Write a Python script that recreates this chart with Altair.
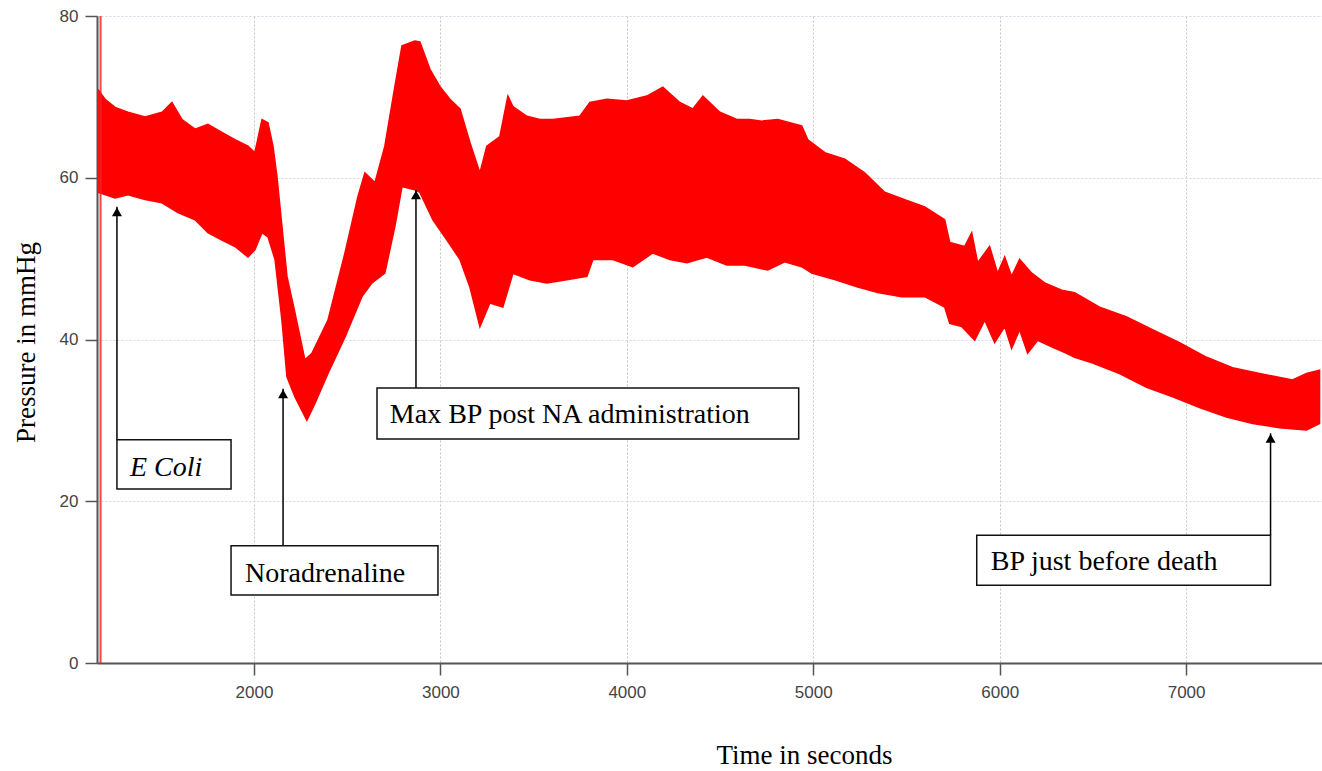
import altair as alt
import pandas as pd

# Upper envelope of the pressure trace (time s, mmHg)
upper_t = [1164, 1201, 1255, 1324, 1416, 1507, 1560, 1614, 1684, 1753, 1828, 1898, 1968, 2005,
           2043, 2075, 2102, 2123, 2150, 2177, 2220, 2273, 2311, 2397, 2488, 2558, 2595, 2649,
           2702, 2756, 2794, 2863, 2890, 2944, 2997, 3051, 3105, 3158, 3212, 3249, 3319, 3362,
           3389, 3464, 3534, 3603, 3748, 3802, 3893, 4000, 4107, 4193, 4284, 4354, 4408, 4499,
           4590, 4660, 4724, 4810, 4938, 4971, 5062, 5169, 5276, 5383, 5491, 5598, 5705, 5732,
           5812, 5850, 5882, 5946, 5989, 6027, 6064, 6107, 6172, 6241, 6333, 6402, 6536, 6681,
           6820, 6965, 7110, 7249, 7394, 7571, 7646, 7716]
upper_v = [70.9, 69.7, 68.7, 68.1, 67.5, 68.1, 69.3, 67.2, 66.0, 66.6, 65.6, 64.7, 63.9, 63.1,
           67.2, 66.8, 63.9, 60.2, 54.0, 47.8, 43.3, 37.5, 38.3, 42.4, 50.7, 57.7, 60.6, 59.4,
           63.9, 71.3, 76.3, 76.9, 76.8, 73.4, 71.3, 69.7, 68.5, 64.4, 60.6, 63.9, 65.1, 70.1,
           68.8, 67.6, 67.2, 67.2, 67.6, 69.3, 69.7, 69.5, 70.1, 71.2, 69.3, 68.5, 70.1, 68.1,
           67.2, 67.2, 67.0, 67.2, 66.4, 64.7, 63.1, 62.3, 60.6, 58.2, 57.3, 56.4, 54.8, 52.0,
           51.5, 53.2, 49.5, 51.5, 48.2, 50.2, 47.8, 49.9, 48.2, 47.0, 46.1, 45.8, 44.0, 42.8,
           41.2, 39.6, 37.8, 36.5, 35.8, 35.0, 35.8, 36.2]

# Lower envelope of the pressure trace
lower_t = [1164, 1255, 1324, 1416, 1507, 1592, 1684, 1753, 1828, 1898, 1968, 2005, 2043, 2075,
           2113, 2150, 2177, 2220, 2284, 2327, 2397, 2488, 2579, 2633, 2702, 2756, 2794, 2863,
           2890, 2960, 3035, 3105, 3158, 3212, 3265, 3335, 3389, 3480, 3571, 3678, 3786, 3818,
           3925, 4032, 4139, 4231, 4322, 4429, 4536, 4633, 4756, 4847, 4938, 4992, 5115, 5239,
           5346, 5475, 5598, 5705, 5732, 5796, 5866, 5920, 5973, 6027, 6064, 6107, 6150, 6204,
           6279, 6359, 6402, 6499, 6643, 6788, 6928, 7072, 7217, 7357, 7501, 7646, 7716]
lower_v = [58.2, 57.5, 57.9, 57.3, 56.9, 55.7, 54.8, 53.2, 52.3, 51.5, 50.2, 51.1, 53.2, 52.7,
           49.9, 42.4, 35.4, 32.9, 30.0, 32.1, 35.8, 40.3, 45.3, 47.0, 48.2, 54.0, 58.9, 58.5,
           58.2, 54.8, 52.3, 49.9, 46.5, 41.6, 44.5, 44.0, 48.2, 47.4, 47.0, 47.4, 47.8, 49.9,
           49.9, 49.0, 50.7, 49.9, 49.5, 50.2, 49.2, 49.2, 48.6, 49.6, 49.0, 48.2, 47.4, 46.5,
           45.8, 45.3, 45.3, 44.0, 42.0, 41.6, 39.9, 42.4, 39.6, 41.6, 38.9, 41.2, 38.3, 39.9,
           39.1, 38.3, 37.8, 37.1, 35.8, 34.1, 32.9, 31.6, 30.4, 29.6, 29.1, 28.8, 29.6]

# Annotations
ann_label = ["E Coli", "Noradrenaline", "Max BP post NA administration", "BP just before death"]
ann_italic = [True, False, False, False]
arrow_t = [1265, 2156, 2869, 7453]
arrow_tip = [56.4, 33.9, 58.5, 28.4]
box_t1 = [1265, 1877, 2660, 5877]
box_t2 = [1877, 2987, 4922, 7453]
box_top = [27.6, 14.5, 34.0, 15.8]
box_bottom = [21.5, 8.4, 27.7, 9.6]
text_t = [1335, 1952, 2729, 5952]
text_v = [23.1, 10.0, 29.7, 11.5]

marker_t = [1177]

x_ticks = [2000, 3000, 4000, 5000, 6000, 7000]
y_ticks = [0, 20, 40, 60, 80]

band_df = pd.DataFrame({
    "t": upper_t + lower_t[::-1],
    "v": upper_v + lower_v[::-1],
})
band_df["o"] = range(len(band_df))

ann_df = pd.DataFrame({
    "label": ann_label, "italic": ann_italic,
    "at": arrow_t, "tip": arrow_tip,
    "bx1": box_t1, "bx2": box_t2, "by1": box_top, "by2": box_bottom,
    "tx": text_t, "ty": text_v,
})
marker_df = pd.DataFrame({"t": marker_t})

xscale = alt.Scale(domain=[1158, 7729], nice=False, zero=False)
yscale = alt.Scale(domain=[0, 80], nice=False)

x_axis = alt.Axis(
    values=x_ticks, format="d", title="Time in seconds",
    grid=True, gridColor="#c4c4c4", gridDash=[2, 2], gridWidth=1,
    domainColor="#555555", domainWidth=2, tickColor="#555555", tickWidth=1.5, tickSize=12,
    labelFont="Liberation Sans", labelFontSize=17, labelColor="#444444", labelPadding=9,
    titleFont="Liberation Serif", titleFontSize=27, titleFontWeight="normal", titleColor="#000000",
    titleX=707, titleY=100, titleAlign="center", titleBaseline="alphabetic",
)
y_axis = alt.Axis(
    values=y_ticks, format="d", title="Pressure in mmHg",
    grid=True, gridColor="#d4d4e8", gridDash=[2, 2], gridWidth=1,
    domainColor="#555555", domainWidth=2, tickColor="#555555", tickWidth=1.5, tickSize=12,
    labelFont="Liberation Sans", labelFontSize=17, labelColor="#444444", labelPadding=7,
    titleFont="Liberation Serif", titleFontSize=27, titleFontWeight="normal", titleColor="#000000",
    titleX=-63, titleY=326, titleAngle=270, titleAlign="center", titleBaseline="alphabetic",
)

band = alt.Chart(band_df).mark_line(
    fill="#ff0000", stroke="#ff0000", strokeWidth=1.5, clip=True
).encode(
    x=alt.X("t:Q", scale=xscale, axis=x_axis),
    y=alt.Y("v:Q", scale=yscale, axis=y_axis),
    order=alt.Order("o:Q"),
)

marker = alt.Chart(marker_df).mark_rule(color="#ff2020", strokeWidth=2, opacity=0.85).encode(
    x=alt.X("t:Q", scale=xscale, axis=x_axis),
)

arrows = alt.Chart(ann_df).mark_rule(color="#000000", strokeWidth=1.5).encode(
    x=alt.X("at:Q", scale=xscale, axis=x_axis),
    y=alt.Y("by1:Q", scale=yscale, axis=y_axis),
    y2="tip:Q",
)

heads = alt.Chart(ann_df).mark_point(
    shape="triangle-up", filled=True, color="#000000", size=100, opacity=1, yOffset=5
).encode(
    x=alt.X("at:Q", scale=xscale, axis=x_axis),
    y=alt.Y("tip:Q", scale=yscale, axis=y_axis),
)

boxes = alt.Chart(ann_df).mark_rect(fill="#ffffff", stroke="#111111", strokeWidth=1.5).encode(
    x=alt.X("bx1:Q", scale=xscale, axis=x_axis),
    x2="bx2:Q",
    y=alt.Y("by1:Q", scale=yscale, axis=y_axis),
    y2="by2:Q",
)

text_normal = alt.Chart(ann_df).transform_filter("!datum.italic").mark_text(
    align="left", baseline="alphabetic", font="Liberation Serif", fontSize=28, color="#000000"
).encode(
    x=alt.X("tx:Q", scale=xscale, axis=x_axis),
    y=alt.Y("ty:Q", scale=yscale, axis=y_axis),
    text="label:N",
)

text_italic = alt.Chart(ann_df).transform_filter("datum.italic").mark_text(
    align="left", baseline="alphabetic", font="Liberation Serif", fontSize=28,
    fontStyle="italic", color="#000000"
).encode(
    x=alt.X("tx:Q", scale=xscale, axis=x_axis),
    y=alt.Y("ty:Q", scale=yscale, axis=y_axis),
    text="label:N",
)

chart = alt.layer(band, marker, arrows, heads, boxes, text_normal, text_italic).properties(
    width=1225, height=647,
    padding={"left": 97, "top": 16, "right": 0, "bottom": 108},
    autosize=alt.AutoSizeParams(type="none"),
    background="#ffffff",
).configure_view(stroke=None)

chart.save("out.html", embed_options={"renderer": "svg", "actions": False})
